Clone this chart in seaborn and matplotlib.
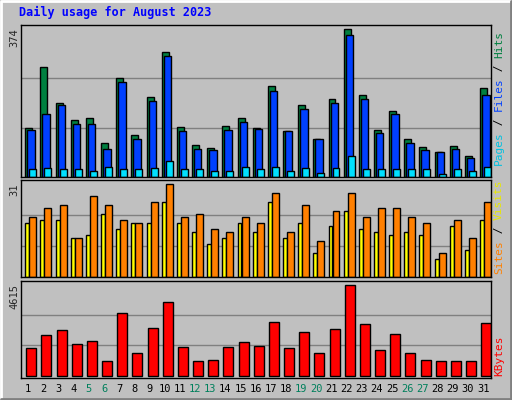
import numpy as np
import matplotlib
matplotlib.use("Agg")
import matplotlib.pyplot as plt
import seaborn as sns

days = list(range(1, 32))
weekends = [5, 6, 12, 13, 19, 20, 26, 27]
hits = [125, 277, 188, 143, 150, 87, 251, 105, 201, 317, 127, 82, 73, 130, 148, 125,
        231, 117, 181, 95, 198, 374, 208, 120, 168, 95, 77, 64, 79, 54, 226]
files = [120, 158, 181, 135, 135, 72, 241, 97, 191, 305, 117, 72, 67, 120, 140, 122,
         217, 115, 173, 95, 188, 360, 198, 110, 158, 87, 69, 62, 72, 49, 206]
pages = [21, 24, 21, 19, 16, 26, 19, 21, 24, 41, 21, 21, 14, 16, 26, 19,
         26, 16, 24, 11, 24, 54, 19, 19, 21, 19, 19, 8, 21, 14, 26]
visits = [20, 23, 24, 13, 27, 24, 19, 18, 25, 31, 20, 21, 16, 15, 20, 18,
          28, 15, 24, 12, 22, 28, 20, 23, 23, 20, 18, 8, 19, 13, 25]
sites = [18, 19, 19, 13, 14, 21, 16, 18, 18, 25, 18, 15, 11, 13, 18, 15,
         25, 13, 18, 8, 17, 22, 16, 15, 14, 15, 14, 6, 17, 9, 19]
kbytes = [1420, 2079, 2333, 1623, 1775, 761, 3195, 1166, 2434, 3753, 1470, 761, 811, 1470,
          1724, 1521, 2738, 1420, 2231, 1166, 2383, 4615, 2637, 1318, 2130, 1166, 811,
          761, 761, 761, 2688]

sns.set_style("white")
plt.rcParams["font.family"] = ["DejaVu Sans Mono"]
BG = "#C0C0C0"

fig = plt.figure(figsize=(5.12, 4.0), dpi=100, facecolor=BG)
x = np.array(days)

def panel(rect, ymax, lo, hi):
    ax = fig.add_axes(rect)
    ax.set_facecolor(BG)
    ax.set_xlim(0.5, 31.5)
    ax.set_ylim(lo, hi)
    for v in (ymax / 3, 2 * ymax / 3):
        ax.axhline(v, color="#808080", lw=1, zorder=0)
    ax.set_xticks([])
    ax.set_yticks([])
    for s in ax.spines.values():
        s.set_color("black")
        s.set_linewidth(1)
    return ax

ek = dict(edgecolor="black", linewidth=1, align="edge")

ax1 = panel([0.0404, 0.5575, 0.918, 0.38], 374, 0, 384)
ax1.bar(x - 0.197, hits, 0.46, color="#008040", **ek)
ax1.bar(x - 0.066, files, 0.49, color="#0040FF", **ek)
ax1.bar(x + 0.066, pages, 0.46, color="#00E0FF", **ek)

ax2 = panel([0.0404, 0.3075, 0.918, 0.2425], 31, 0, 32.5)
ax2.bar(x - 0.197, sites, 0.26, color="#FFFF00", **ek)
ax2.bar(x + 0.066, visits, 0.46, color="#FF8000", **ek)

ax3 = panel([0.0404, 0.055, 0.918, 0.2425], 4615, -122, 4798)
ax3.bar(x - 0.13, kbytes, 0.66, color="#FF0000", **ek)

for d in days:
    xf = 0.0404 + 0.918 * (d - 0.5) / 31
    fig.text(xf, 11 / 400, str(d), ha="center", va="center", fontsize=7.5,
             color="#00805C" if d in weekends else "black")

fig.text(19 / 512, 1 - 12 / 400, "Daily usage for August 2023", color="#0000FF",
         fontsize=8.5, fontweight="bold", va="center", ha="left")

for label, ytop in (("374", 28), ("31", 183), ("4615", 284)):
    fig.text(14 / 512, 1 - ytop / 400, label, rotation=90, ha="center", va="top", fontsize=7.5)

CH = 6.7  # px per monospace char at fontsize 8

def right_labels(parts, ybot):
    y = ybot
    for txt, col in parts:
        fig.text(499 / 512, 1 - y / 400, txt, rotation=90, ha="center", va="bottom",
                 fontsize=8, color=col)
        y -= len(txt) * CH
right_labels([("Pages", "#00C0E0"), (" / ", "black"), ("Files", "#0040FF"),
              (" / ", "black"), ("Hits", "#008040")], 165)
right_labels([("Sites", "#FF8000"), (" / ", "black"), ("Visits", "#E8E800")], 274)
right_labels([("KBytes", "#FF0000")], 376)

# bevelled frame
fig.add_artist(plt.Line2D([0.002, 0.002, 0.998], [0.002, 0.998, 0.998], color="white", lw=2))
fig.add_artist(plt.Line2D([0.002, 0.998, 0.998], [0.002, 0.002, 0.998], color="#808080", lw=2))

fig.savefig("out.png", dpi=100, facecolor=BG)
